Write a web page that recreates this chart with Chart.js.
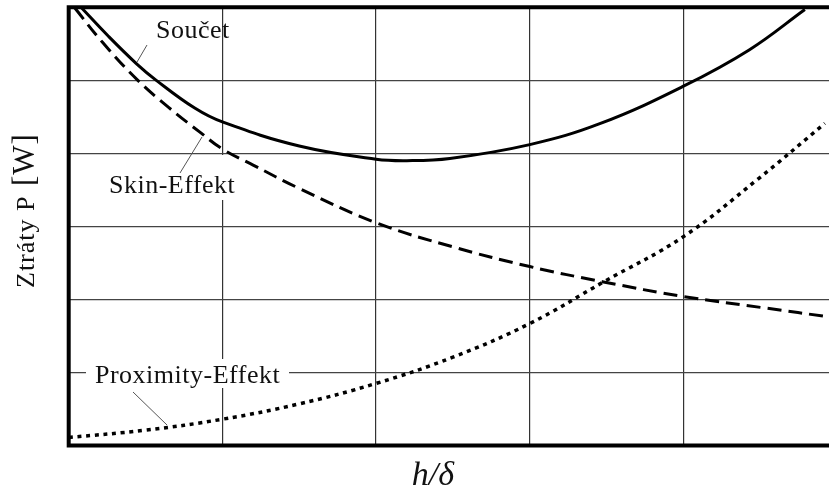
<!DOCTYPE html>
<html>
<head>
<meta charset="utf-8">
<script src="https://cdn.jsdelivr.net/npm/chart.js@4/dist/chart.umd.min.js"></script>
<style>
html,body{margin:0;padding:0;background:#fff;overflow:hidden;}
#wrap{width:829px;height:494px;position:relative;}
</style>
</head>
<body>
<div id="wrap"><canvas id="c" width="829" height="494"></canvas></div>
<script>
// ---- data (axis units: x = h/δ grid steps, y = grid rows) ----
const sumX  = [0.08, 0.26, 0.44, 0.57, 0.82, 1.00, 1.50, 2.00, 2.20, 2.48, 3.00, 3.46, 4.00, 4.43, 4.79];
const sumY  = [6.00, 5.60, 5.23, 5.00, 4.62, 4.43, 4.10, 3.92, 3.90, 3.93, 4.12, 4.41, 4.92, 5.42, 5.97];
const skinX = [0.04, 0.22, 0.45, 0.65, 0.86, 1.00, 1.20, 1.50, 2.00, 2.50, 3.00, 3.48, 4.00, 4.54, 4.95];
const skinY = [5.99, 5.52, 5.00, 4.63, 4.28, 4.06, 3.84, 3.52, 3.05, 2.72, 2.45, 2.24, 2.04, 1.88, 1.76];
const proxX = [0.00, 0.50, 1.00, 1.50, 2.00, 2.50, 3.00, 3.48, 4.00, 4.48, 4.92];
const proxY = [0.11, 0.21, 0.36, 0.57, 0.85, 1.21, 1.67, 2.24, 2.86, 3.64, 4.41];
const seriesNames = ['Součet', 'Skin-Effekt', 'Proximity-Effekt'];
const xTitle = 'h/δ';
const yTitleMain = 'Ztráty P ';
const yTitleUnit = '[W]';
const xMin = 0, xMax = 4.947, yMin = 0, yMax = 6;

const pts = (xs, ys) => xs.map((x, i) => ({x: x, y: ys[i]}));

const annot = {
  id: 'annot',
  beforeDatasetsDraw(chart) {
    const ctx = chart.ctx;
    ctx.save();
    // white boxes behind labels (break grid lines)
    ctx.fillStyle = '#fff';
    ctx.fillRect(106, 155, 134, 45);
    ctx.fillRect(86, 359, 203, 29);
    // labels
    ctx.fillStyle = '#111';
    ctx.font = '26px "Liberation Serif"';
    ctx.letterSpacing = '0.5px';
    ctx.textBaseline = 'alphabetic';
    ctx.textAlign = 'left';
    ctx.fillText(seriesNames[0], 156, 38);
    ctx.fillText(seriesNames[1], 109, 193);
    ctx.fillText(seriesNames[2], 95, 383);
    ctx.letterSpacing = '0px';
    // leader lines
    ctx.strokeStyle = '#555';
    ctx.lineWidth = 1;
    ctx.beginPath();
    ctx.moveTo(147, 45); ctx.lineTo(137, 62);
    ctx.moveTo(180, 173); ctx.lineTo(202, 137);
    ctx.moveTo(133, 392); ctx.lineTo(167, 425);
    ctx.stroke();
    ctx.restore();
  },
  afterDatasetsDraw(chart) {
    const ctx = chart.ctx;
    const a = chart.chartArea;
    ctx.save();
    ctx.strokeStyle = '#000';
    ctx.lineWidth = 4;
    ctx.lineCap = 'square';
    ctx.beginPath();
    ctx.moveTo(a.right + 5, a.top);
    ctx.lineTo(a.left, a.top);
    ctx.lineTo(a.left, a.bottom);
    ctx.lineTo(a.right + 5, a.bottom);
    ctx.stroke();
    // axis titles
    ctx.fillStyle = '#111';
    ctx.font = 'italic 34px "Liberation Serif"';
    ctx.textAlign = 'center';
    ctx.textBaseline = 'alphabetic';
    ctx.fillText(xTitle, 433, 485);
    ctx.translate(34, 288);
    ctx.rotate(-Math.PI / 2);
    ctx.textAlign = 'left';
    ctx.font = '26px "Liberation Serif"';
    ctx.letterSpacing = '1px';
    ctx.fillText(yTitleMain, 0, 0);
    const w = ctx.measureText(yTitleMain).width;
    ctx.font = '31px "Liberation Serif"';
    ctx.fillText(yTitleUnit, w + 2, 0);
    ctx.restore();
  }
};

new Chart(document.getElementById('c'), {
  type: 'line',
  data: {
    datasets: [
      {label: seriesNames[0], data: pts(sumX, sumY), borderColor: '#000', borderWidth: 3, pointRadius: 0, tension: 0.4, fill: false},
      {label: seriesNames[1], data: pts(skinX, skinY), borderColor: '#000', borderWidth: 3, borderDash: [14, 7], pointRadius: 0, tension: 0.4, fill: false},
      {label: seriesNames[2], data: pts(proxX, proxY), borderColor: '#000', borderWidth: 3.5, borderDash: [4, 4.7], pointRadius: 0, tension: 0.4, fill: false}
    ]
  },
  options: {
    responsive: false,
    animation: false,
    events: [],
    layout: {padding: {left: 68.7, top: 7.3, right: 0, bottom: 48.5}},
    plugins: {legend: {display: false}, tooltip: {enabled: false}, title: {display: false}},
    scales: {
      x: {
        type: 'linear', min: xMin, max: xMax,
        ticks: {display: false, stepSize: 1},
        border: {display: false},
        grid: {drawTicks: false, lineWidth: 1.2,
          color: c => (c.tick && Number.isInteger(c.tick.value) && c.tick.value > 0) ? '#333' : 'rgba(0,0,0,0)'},
        afterFit: s => { s.height = 0; }
      },
      y: {
        type: 'linear', min: yMin, max: yMax,
        ticks: {display: false, stepSize: 1},
        border: {display: false},
        grid: {drawTicks: false, lineWidth: 1.2,
          color: c => (c.tick && c.tick.value > 0 && c.tick.value < 6) ? '#444' : 'rgba(0,0,0,0)'},
        afterFit: s => { s.width = 0; }
      }
    }
  },
  plugins: [annot]
});
</script>
</body>
</html>
